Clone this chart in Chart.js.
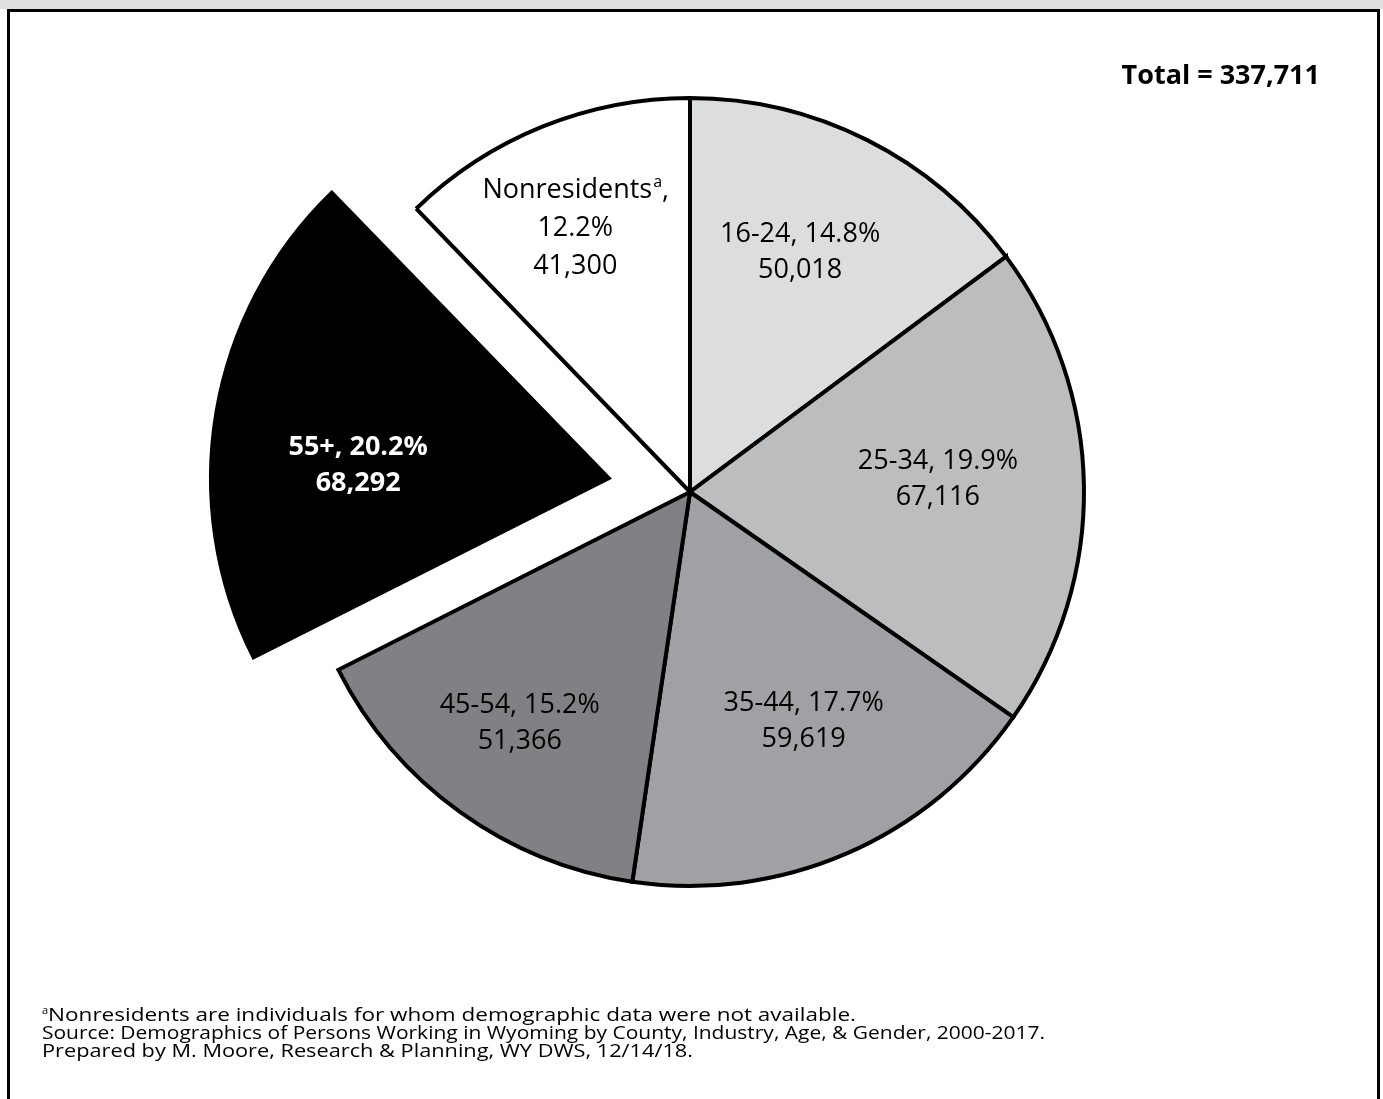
<!DOCTYPE html>
<html>
<head>
<meta charset="utf-8">
<title>Persons Working in Wyoming by Age</title>
<script src="https://cdn.jsdelivr.net/npm/chart.js@4.4.1/dist/chart.umd.min.js"></script>
<style>
  html, body { margin:0; padding:0; background:#fff; }
  canvas { display:block; }
</style>
</head>
<body>
<canvas id="pie" width="1383" height="1099"></canvas>
<script>
// data
const groups  = ['16-24', '25-34', '35-44', '45-54', '55+', 'Nonresidents'];
const workers = [50018, 67116, 59619, 51366, 68292, 41300];
const total   = workers.reduce((a, b) => a + b, 0); // 337,711
const notes = [
  'Nonresidents are individuals for whom demographic data were not available.',
  'Source: Demographics of Persons Working in Wyoming by County, Industry, Age, & Gender, 2000-2017.',
  'Prepared by M. Moore, Research & Planning, WY DWS, 12/14/18.'
];

// styling
const fills     = ['#dcdddf', '#bcbdbf', '#a0a1a4', '#808184', '#000000', '#ffffff'];
const exploded  = 4;            // 55+ slice pulled out
const labelR    = [0.67, 0.63, 0.65, 0.73, 0.845, 0.73];   // label distance, share of radius
const labelTurn = [-2, -2, -3, 0.5, -5, -1.5];             // degrees off the slice middle
const noteWidth = [814, 1003, 651];                        // line widths in the original
const FONT = "'Open Sans', 'Noto Sans', sans-serif";
const LABEL_PX = 27;
const NOTE_PX = 18.5;

const fmt = n => n.toLocaleString('en-US');
const pct = n => (n / total * 100).toFixed(1) + '%';

const framePlugin = {
  id: 'frame',
  beforeDraw(chart) {
    const ctx = chart.ctx;
    ctx.save();
    ctx.fillStyle = '#fff';
    ctx.fillRect(0, 0, chart.width, chart.height);
    ctx.fillStyle = '#e0e0e0';
    ctx.fillRect(0, 0, chart.width, 9);
    ctx.strokeStyle = '#000';
    ctx.lineWidth = 3;
    ctx.strokeRect(8.5, 10.5, 1370, 1200);
    ctx.restore();
  },
  afterDraw(chart) {
    const ctx = chart.ctx;
    ctx.save();
    ctx.fillStyle = '#000';
    ctx.textBaseline = 'alphabetic';
    ctx.font = `bold 27px ${FONT}`;
    ctx.textAlign = 'right';
    ctx.fillText(`Total = ${fmt(total)}`, 1320, 84);

    // footnotes, stretched to the condensed face of the original
    ctx.textAlign = 'left';
    const base = [1021, 1039, 1057];
    notes.forEach((line, i) => {
      ctx.save();
      ctx.font = `11px ${FONT}`;
      const supW = i === 0 ? ctx.measureText('a').width : 0;
      ctx.font = `${NOTE_PX}px ${FONT}`;
      const sx = (noteWidth[i] - supW) / ctx.measureText(line).width;
      ctx.translate(42, base[i]);
      if (i === 0) {
        ctx.font = `11px ${FONT}`;
        ctx.fillText('a', 0, -7);
        ctx.translate(supW, 0);
        ctx.font = `${NOTE_PX}px ${FONT}`;
      }
      ctx.scale(sx, 1);
      ctx.fillText(line, 0, 0);
      ctx.restore();
    });
    ctx.restore();
  }
};

const labelPlugin = {
  id: 'sliceLabels',
  afterDatasetsDraw(chart) {
    const ctx = chart.ctx;
    const meta = chart.getDatasetMeta(0);
    ctx.save();
    ctx.textBaseline = 'middle';
    meta.data.forEach((arc, i) => {
      const { x, y, startAngle, endAngle, outerRadius } =
        arc.getProps(['x', 'y', 'startAngle', 'endAngle', 'outerRadius'], true);
      const a = (startAngle + endAngle) / 2 + labelTurn[i] * Math.PI / 180;
      const r = outerRadius * labelR[i];
      const cx = x + Math.cos(a) * r;
      const cy = y + Math.sin(a) * r;
      const bold = i === exploded;
      const main = `${bold ? 'bold ' : ''}${LABEL_PX}px ${FONT}`;
      const sup = `16px ${FONT}`;
      ctx.fillStyle = bold ? '#fff' : '#000';
      ctx.font = main;
      ctx.textAlign = 'center';

      if (groups[i] === 'Nonresidents') {
        const lh = 38;
        const y0 = cy - lh;
        // "Nonresidents" + superscript a + ","
        const w1 = ctx.measureText(groups[i]).width;
        ctx.font = sup;
        const w2 = ctx.measureText('a').width;
        ctx.font = main;
        const w3 = ctx.measureText(',').width;
        const lx = cx - (w1 + w2 + w3) / 2;
        ctx.textAlign = 'left';
        ctx.fillText(groups[i], lx, y0);
        ctx.font = sup;
        ctx.fillText('a', lx + w1 + 1, y0 - 8);
        ctx.font = main;
        ctx.fillText(',', lx + w1 + w2 + 1, y0);
        ctx.textAlign = 'center';
        ctx.fillText(pct(workers[i]), cx, cy);
        ctx.fillText(fmt(workers[i]), cx, cy + lh);
      } else {
        const lh = 36;
        ctx.fillText(`${groups[i]}, ${pct(workers[i])}`, cx, cy - lh / 2);
        ctx.fillText(fmt(workers[i]), cx, cy + lh / 2);
      }
    });
    ctx.restore();
  }
};

new Chart(document.getElementById('pie'), {
  type: 'pie',
  data: {
    labels: groups,
    datasets: [{
      data: workers,
      backgroundColor: fills,
      borderColor: '#000',
      borderWidth: 4,
      borderJoinStyle: 'miter',
      offset: workers.map((_, i) => i === exploded ? 330 : 0),
      clip: false
    }]
  },
  options: {
    responsive: false,
    animation: false,
    radius: 394,
    layout: { padding: { left: 0, right: 3, top: 0, bottom: 115 } },
    plugins: {
      legend: { display: false },
      tooltip: { enabled: false },
      title: { display: false }
    },
    events: []
  },
  plugins: [framePlugin, labelPlugin]
});
</script>
</body>
</html>
